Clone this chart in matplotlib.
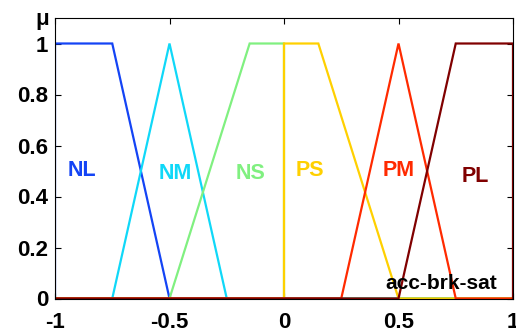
import matplotlib
matplotlib.use("Agg")
import matplotlib.pyplot as plt
import numpy as np

# membership functions (breakpoints x, y)
names = ["NL", "NM", "NS", "PS", "PM", "PL"]
xs = [
    [-1, -1, -0.75, -0.5, 1],
    [-1, -0.75, -0.5, -0.25, 1],
    [-1, -0.5, -0.15, 0, 0, 1],
    [-1, 0, 0, 0.15, 0.5, 1],
    [-1, 0.25, 0.5, 0.75, 1],
    [-1, 0.5, 0.75, 1, 1],
]
ys = [
    [0, 1, 1, 0, 0],
    [0, 0, 1, 0, 0],
    [0, 0, 1, 1, 0, 0],
    [0, 0, 1, 1, 0, 0],
    [0, 0, 1, 0, 0],
    [0, 0, 1, 1, 0],
]
label_x = [-0.882, -0.476, -0.148, 0.113, 0.502, 0.834]
label_y = [0.50, 0.49, 0.49, 0.50, 0.50, 0.48]
colors = ["#1444f5", "#10d8f8", "#80f080", "#ffd000", "#ff2a00", "#800000"]
xticks = [-1, -0.5, 0, 0.5, 1]
yticks = [0, 0.2, 0.4, 0.6, 0.8, 1]

plt.rcParams['font.family'] = ['Liberation Sans', 'DejaVu Sans']
plt.rcParams['font.weight'] = 'bold'

fig = plt.figure(figsize=(5.16, 3.31), dpi=100)
ax = fig.add_axes([55/516, (331-298.5)/331, (513-55)/516, (298.5-18)/331])

for x, y, c in zip(xs, ys, colors):
    ax.plot(x, y, color=c, lw=1.6, solid_joinstyle='miter')

for n, lx, ly, c in zip(names, label_x, label_y, colors):
    ax.text(lx, ly, n, color=c, fontsize=15.5, fontweight='bold', ha='center', va='center')

ax.text(0.686, 0.057, "acc-brk-sat", color='black', fontsize=15, fontweight='bold',
        ha='center', va='center')

ax.set_xlim(-1, 1)
ax.set_ylim(0, 1.1)
ax.set_xticks(xticks)
ax.set_xticklabels([f"{t:g}" for t in xticks])
ax.set_yticks(yticks)
ax.set_yticklabels([f"{t:g}" for t in yticks])
ax.tick_params(direction='in', length=4, width=0.8, top=True, right=True,
               labelsize=16)
ax.tick_params(axis='x', pad=9.5)
ax.tick_params(axis='y', pad=5)
for lab in ax.get_xticklabels() + ax.get_yticklabels():
    lab.set_fontweight('bold')
for s in ax.spines.values():
    s.set_linewidth(0.8)

fig.text(42/516, 1 - 20/331, "μ", fontsize=16, fontweight='bold', ha='center', va='center')

fig.savefig("out.png", dpi=100)
